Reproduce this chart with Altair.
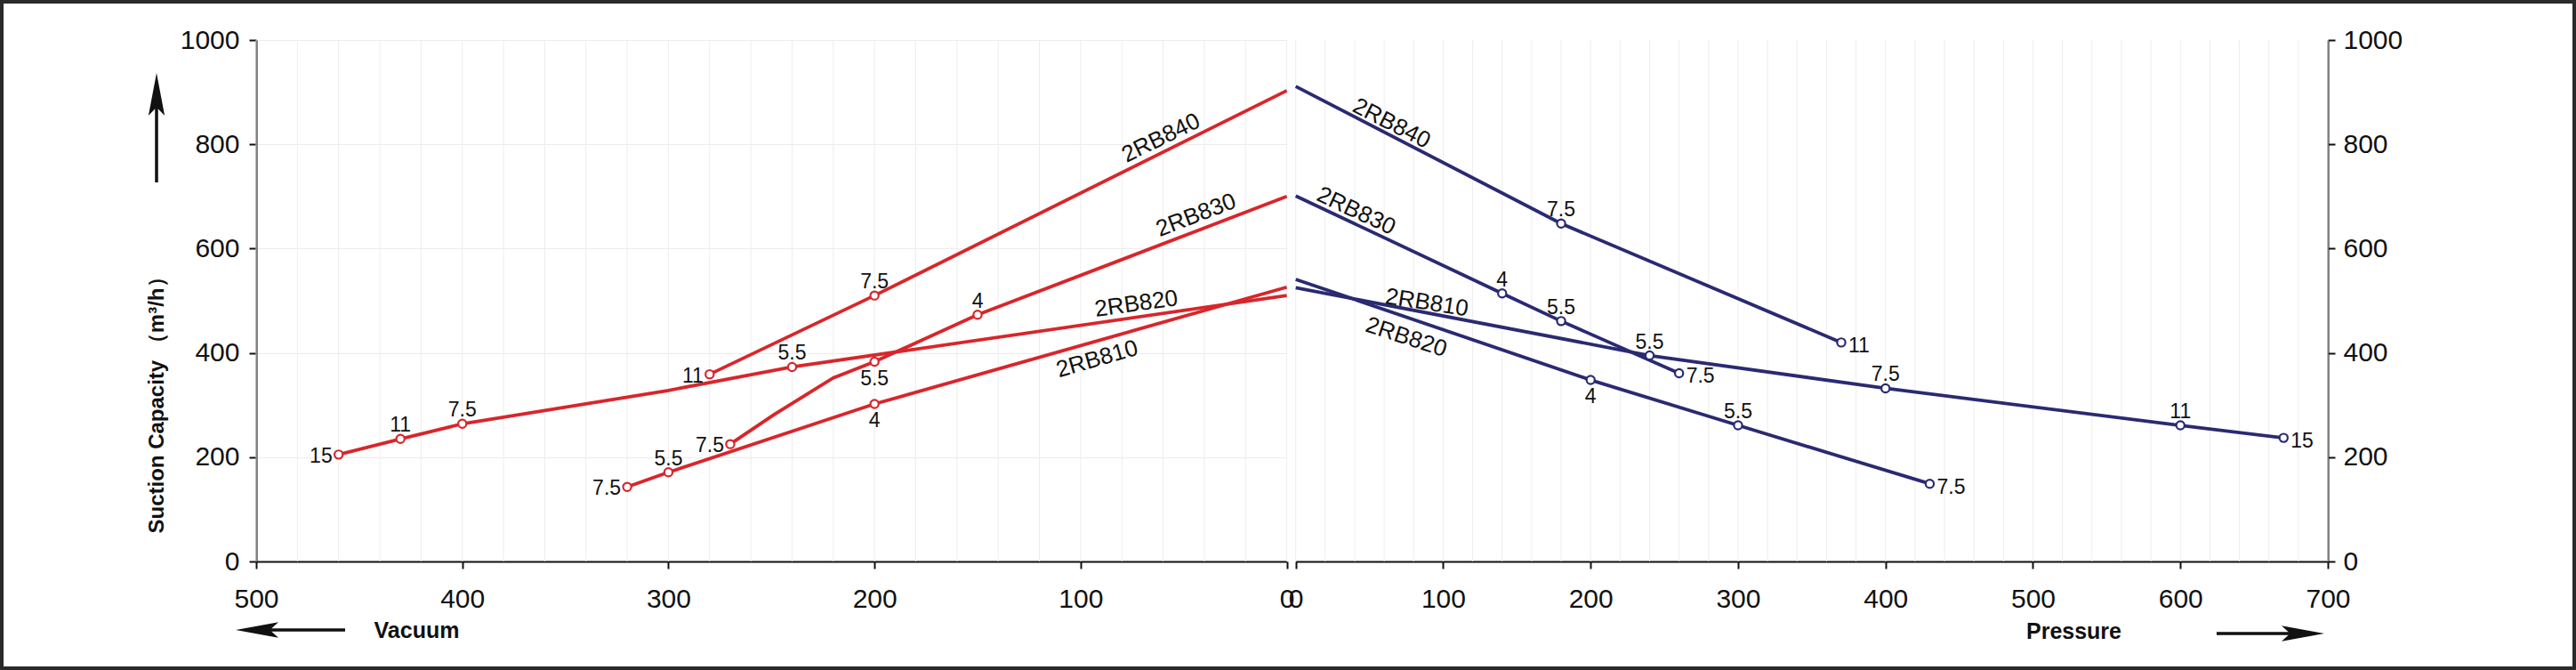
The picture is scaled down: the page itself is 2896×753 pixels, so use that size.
import altair as alt
import pandas as pd

# ---------------- data ----------------
# Vacuum side (left panel): vacuum [mbar] vs suction capacity [m3/h]; kW labels at marked points
vac_2rb840_x = [280, 200, 0]
vac_2rb840_y = [359, 510, 903]
vac_2rb840_kw = ["11", "7.5", ""]
vac_2rb840_pos = ["left", "above", ""]

vac_2rb830_x = [270, 249, 220, 200, 150, 0]
vac_2rb830_y = [225, 281, 352, 383, 473, 700]
vac_2rb830_kw = ["7.5", "", "", "5.5", "4", ""]
vac_2rb830_pos = ["left", "", "", "below", "above", ""]

vac_2rb820_x = [460, 430, 400, 300, 240, 0]
vac_2rb820_y = [205, 235, 264, 328, 373, 510]
vac_2rb820_kw = ["15", "11", "7.5", "", "5.5", ""]
vac_2rb820_pos = ["left", "above", "above", "", "above", ""]

vac_2rb810_x = [320, 300, 200, 0]
vac_2rb810_y = [143, 171, 302, 526]
vac_2rb810_kw = ["7.5", "5.5", "4", ""]
vac_2rb810_pos = ["left", "above", "below", ""]

# Pressure side (right panel): pressure [mbar] vs suction capacity [m3/h]
pre_2rb840_x = [0, 180, 370]
pre_2rb840_y = [911, 648, 420]
pre_2rb840_kw = ["", "7.5", "11"]
pre_2rb840_pos = ["", "above", "right"]

pre_2rb830_x = [0, 140, 180, 260]
pre_2rb830_y = [701, 514, 461, 361]
pre_2rb830_kw = ["", "4", "5.5", "7.5"]
pre_2rb830_pos = ["", "above", "above", "right"]

pre_2rb810_x = [0, 240, 400, 600, 670]
pre_2rb810_y = [525, 395, 332, 261, 237]
pre_2rb810_kw = ["", "5.5", "7.5", "11", "15"]
pre_2rb810_pos = ["", "above", "above", "above", "right"]

pre_2rb820_x = [0, 200, 300, 430]
pre_2rb820_y = [541, 348, 261, 149]
pre_2rb820_kw = ["", "4", "5.5", "7.5"]
pre_2rb820_pos = ["", "below", "above", "right"]

# model name labels along the curves
vac_lab_model = ["2RB840", "2RB830", "2RB820", "2RB810"]
vac_lab_x = [61, 44, 73, 92]
vac_lab_y = [812, 664, 494, 388]
vac_lab_angle = [334, 339, 352, 344]

pre_lab_model = ["2RB840", "2RB830", "2RB810", "2RB820"]
pre_lab_x = [65, 41, 89, 75]
pre_lab_y = [840, 672, 496, 430]
pre_lab_angle = [27, 25, 9, 18]

vac_ticks = [0, 100, 200, 300, 400, 500]
pre_ticks = [0, 100, 200, 300, 400, 500, 600, 700]
y_ticks = [0, 200, 400, 600, 800, 1000]
vac_grid = list(range(0, 501, 20))
pre_grid = list(range(0, 701, 20))

# ---------------- build tables ----------------
def series_table(spec):
    rows = []
    for model, xs, ys, kws, poss in spec:
        for i, (x, y, kw, p) in enumerate(zip(xs, ys, kws, poss)):
            rows.append({"model": model, "x": x, "y": y, "kw": kw, "pos": p, "idx": i})
    return pd.DataFrame(rows)

vac_df = series_table([
    ("2RB840", vac_2rb840_x, vac_2rb840_y, vac_2rb840_kw, vac_2rb840_pos),
    ("2RB830", vac_2rb830_x, vac_2rb830_y, vac_2rb830_kw, vac_2rb830_pos),
    ("2RB820", vac_2rb820_x, vac_2rb820_y, vac_2rb820_kw, vac_2rb820_pos),
    ("2RB810", vac_2rb810_x, vac_2rb810_y, vac_2rb810_kw, vac_2rb810_pos),
])
pre_df = series_table([
    ("2RB840", pre_2rb840_x, pre_2rb840_y, pre_2rb840_kw, pre_2rb840_pos),
    ("2RB830", pre_2rb830_x, pre_2rb830_y, pre_2rb830_kw, pre_2rb830_pos),
    ("2RB810", pre_2rb810_x, pre_2rb810_y, pre_2rb810_kw, pre_2rb810_pos),
    ("2RB820", pre_2rb820_x, pre_2rb820_y, pre_2rb820_kw, pre_2rb820_pos),
])
vac_lab = pd.DataFrame({"model": vac_lab_model, "x": vac_lab_x, "y": vac_lab_y, "angle": vac_lab_angle})
pre_lab = pd.DataFrame({"model": pre_lab_model, "x": pre_lab_x, "y": pre_lab_y, "angle": pre_lab_angle})

# ---------------- styling ----------------
RED = "#d8262b"
NAVY = "#2a2a72"
NARROW = "Liberation Sans Narrow, Arial Narrow, Liberation Sans, Arial, sans-serif"
SANS = "Liberation Sans, Arial, sans-serif"
W = 2329
H = 586
LEFT_W = 1158.6
RIGHT_X0 = 1168.7

y_scale = alt.Scale(domain=[0, 1000], nice=False, zero=True)

common_axis = dict(
    labelFont=NARROW, labelFontSize=30, labelColor="#111", domainColor="#111",
    tickColor="#111", domainWidth=2, tickWidth=2, tickSize=8, format="d",
    labelFlush=False, labelOverlap=False,
)

axis_vac_x = alt.Axis(values=vac_ticks, grid=False, labelPadding=19, orient="bottom",
                      title="Vacuum", titleX=180, titleY=77, titleAlign="center",
                      titleBaseline="middle", titleFont=SANS, titleFontSize=25,
                      titleFontWeight="bold", titleColor="#111", **common_axis)
axis_pre_x = alt.Axis(values=pre_ticks, grid=False, labelPadding=19, orient="bottom",
                      title="Pressure", titleX=2043, titleY=78, titleAlign="center",
                      titleBaseline="middle", titleFont=SANS, titleFontSize=25,
                      titleFontWeight="bold", titleColor="#111", **common_axis)
axis_y_left = alt.Axis(values=y_ticks, grid=True, gridColor="#ececec", gridWidth=1,
                       labelPadding=11, orient="left",
                       title="Suction Capacity   （m³/h）", titleAngle=270, titleX=-112,
                       titleY=404, titleAlign="center", titleBaseline="middle",
                       titleFont=SANS, titleFontSize=24, titleFontWeight="bold",
                       titleColor="#111", **common_axis)
axis_y_right = alt.Axis(values=y_ticks, grid=False, labelPadding=9, orient="right",
                        title=None, **common_axis)

vac_scale = alt.Scale(domain=[0, 500], range=[LEFT_W, 0], nice=False, zero=False)
pre_scale = alt.Scale(domain=[0, 700], range=[RIGHT_X0, W], nice=False, zero=False)


def panel(df, lab, grid_vals, color, xscale, xaxis, yaxis):
    X = alt.X("x:Q", scale=xscale, axis=xaxis)
    Y = alt.Y("y:Q", scale=y_scale, axis=yaxis)
    grid = alt.Chart(pd.DataFrame({"x": grid_vals})).mark_rule(
        color="#ededed", strokeWidth=1).encode(x=X)
    base = alt.Chart(df)
    lines = base.mark_line(color=color, strokeWidth=3.8).encode(
        x=X, y=Y, detail="model:N", order="idx:Q")
    pts = base.transform_filter("datum.kw != ''").mark_point(
        shape="circle", filled=True, fill="white", stroke=color, strokeWidth=2.2,
        size=85, opacity=1).encode(x=X, y=Y)
    txt_kw = dict(font=NARROW, fontSize=23, color="#111")
    above = base.transform_filter("datum.pos == 'above'").mark_text(
        dy=-15, align="center", baseline="middle", **txt_kw).encode(x=X, y=Y, text="kw:N")
    below = base.transform_filter("datum.pos == 'below'").mark_text(
        dy=19, align="center", baseline="middle", **txt_kw).encode(x=X, y=Y, text="kw:N")
    left = base.transform_filter("datum.pos == 'left'").mark_text(
        dx=-7, dy=2, align="right", baseline="middle", **txt_kw).encode(x=X, y=Y, text="kw:N")
    right = base.transform_filter("datum.pos == 'right'").mark_text(
        dx=8, dy=4, align="left", baseline="middle", **txt_kw).encode(x=X, y=Y, text="kw:N")
    names = alt.Chart(lab).mark_text(
        font=SANS, fontSize=26, color="#111", align="center", baseline="middle").encode(
        x=X, y=Y, text="model:N", angle=alt.Angle("angle:Q", scale=None))
    return alt.layer(grid, lines, pts, above, below, left, right, names)


left_panel = panel(vac_df, vac_lab, vac_grid, RED, vac_scale, axis_vac_x, axis_y_left)
right_panel = panel(pre_df, pre_lab, pre_grid, NAVY, pre_scale, axis_pre_x, axis_y_right)

one = pd.DataFrame({"a": [0]})
ARROW_L = "M-1,0L1,-0.36L0.6,0L1,0.36Z"
ARROW_R = "M1,0L-1,-0.36L-0.6,0L-1,0.36Z"
ARROW_U = "M0,-1L0.38,1L0,0.6L-0.38,1Z"

up_shaft = alt.Chart(one).mark_rule(color="#111", strokeWidth=3.5).encode(
    x=alt.value(-112), y=alt.value(72), y2=alt.value(160))
up_head = alt.Chart(one).mark_point(shape=ARROW_U, filled=True, color="#111", size=2300, opacity=1).encode(
    x=alt.value(-112), y=alt.value(61))
l_shaft = alt.Chart(one).mark_rule(color="#111", strokeWidth=3.5).encode(
    x=alt.value(14), x2=alt.value(100), y=alt.value(663))
l_head = alt.Chart(one).mark_point(shape=ARROW_L, filled=True, color="#111", size=2300, opacity=1).encode(
    x=alt.value(1), y=alt.value(663))
r_shaft = alt.Chart(one).mark_rule(color="#111", strokeWidth=3.5).encode(
    x=alt.value(2204), x2=alt.value(2290), y=alt.value(667))
r_head = alt.Chart(one).mark_point(shape=ARROW_R, filled=True, color="#111", size=2300, opacity=1).encode(
    x=alt.value(2301), y=alt.value(667))
frame = alt.Chart(one).mark_rect(fill="white", fillOpacity=0, stroke="#2a2a2a", strokeWidth=4).encode(
    x=alt.value(-286), x2=alt.value(W + 277), y=alt.value(-43), y2=alt.value(H + 120))

chart = alt.layer(
    left_panel, right_panel, up_shaft, up_head, l_shaft, l_head, r_shaft, r_head, frame
).resolve_scale(x="independent", y="independent").properties(
    width=W, height=H,
    autosize=alt.AutoSizeParams(type="none"),
    padding={"left": 288, "top": 45, "right": 279, "bottom": 122},
    background="white",
).configure_view(stroke=None)

chart.save("out.html", embed_options={"renderer": "svg", "actions": False})
